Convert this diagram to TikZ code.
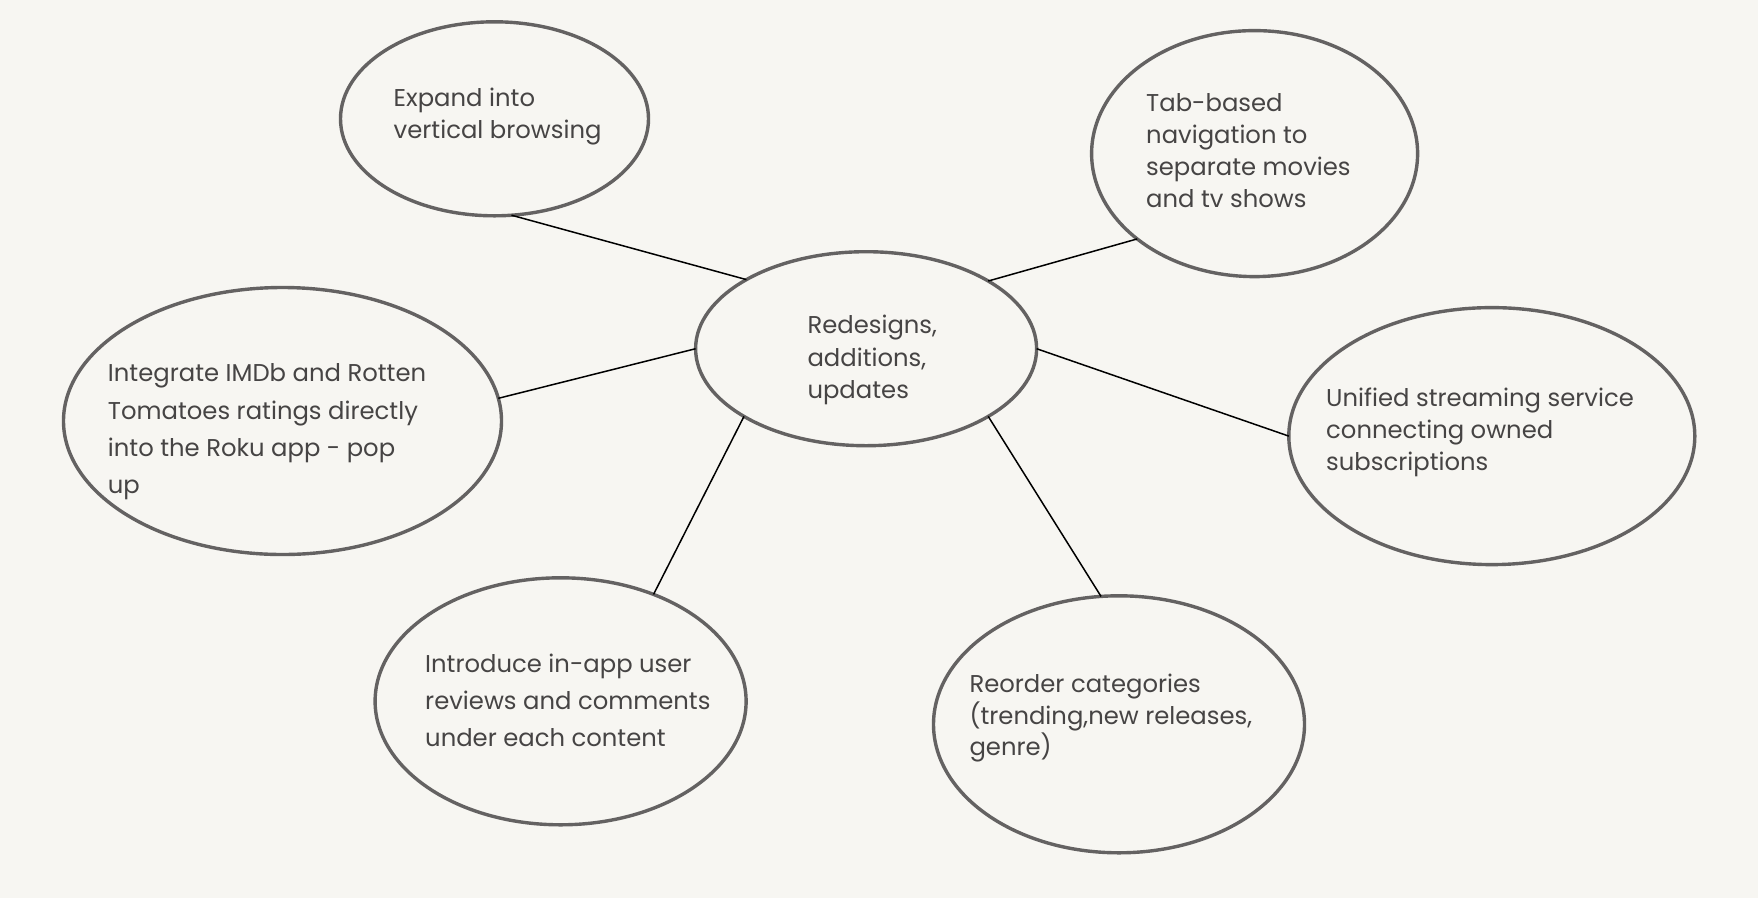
\documentclass[tikz,border=0pt]{standalone}
\usepackage{fontspec}
\setmainfont{Poppins}
\usetikzlibrary{shapes.geometric}
\definecolor{bgc}{HTML}{F7F6F2}
\definecolor{ringc}{HTML}{646262}
\definecolor{txtc}{HTML}{464444}
\tikzset{
  ring/.style={ellipse, draw=ringc, line width=3.4pt, inner sep=0pt, outer sep=0pt},
  lbl/.style={anchor=base west, inner sep=0pt, text=txtc, font=\fontsize{24.3}{30}\selectfont},
  link/.style={draw=black, line width=1.5pt}
}
\begin{document}
\begin{tikzpicture}[x=1pt,y=-1pt]
\fill[bgc] (0,0) rectangle (1758,898);
\useasboundingbox (0,0) rectangle (1758,898);
% ellipses
\node[ring, minimum width=308pt, minimum height=194pt] (n1) at (494.5,118.8) {};
\node[ring, minimum width=326pt, minimum height=246pt] (n2) at (1254.6,153.6) {};
\node[ring, minimum width=341pt, minimum height=194pt] (c) at (866.1,348.7) {};
\node[ring, minimum width=438pt, minimum height=267pt] (n4) at (282.5,421) {};
\node[ring, minimum width=406pt, minimum height=257pt] (n5) at (1491.8,436.1) {};
\node[ring, minimum width=371pt, minimum height=247pt] (n6) at (560.6,701.3) {};
\node[ring, minimum width=371pt, minimum height=257pt] (n7) at (1119,724.3) {};
% connectors
\draw[link] (n1.-80.2) -- (c.150);
\draw[link] (n2.216.8) -- (c.29.7);
\draw[link] (n4.6.8) -- (c.180);
\draw[link] (n5.180) -- (c.0);
\draw[link] (n6.49.2) -- (c.209.6);
\draw[link] (n7.98.6) -- (c.-29.6);
% texts
\node[lbl] (t1a) at (393.5,106.7) {Expand into};
\node[lbl] (t1b) at (393.5,138.3) {vertical browsing};
\node[lbl] (t2a) at (1146,111.7) {Tab-based};
\node[lbl] (t2b) at (1146,143.7) {navigation to};
\node[lbl] (t2c) at (1146,175.7) {separate movies};
\node[lbl] (t2d) at (1146,207.7) {and tv shows};
\node[lbl] (tca) at (807.3,333.3) {Redesigns,};
\node[lbl] (tcb) at (807.3,366) {additions,};
\node[lbl] (tcc) at (807.3,398.7) {updates};
\node[lbl] (t4a) at (107.7,381.7) {Integrate IMDb and Rotten};
\node[lbl] (t4b) at (107.7,419) {Tomatoes ratings directly};
\node[lbl] (t4c) at (107.7,456.3) {into the Roku app - pop};
\node[lbl] (t4d) at (107.7,493.6) {up};
\node[lbl] (t5a) at (1326,406) {Unified streaming service};
\node[lbl] (t5b) at (1326,438) {connecting owned};
\node[lbl] (t5c) at (1326,470) {subscriptions};
\node[lbl] (t6a) at (425,672.3) {Introduce in-app user};
\node[lbl] (t6b) at (425,709.6) {reviews and comments};
\node[lbl] (t6c) at (425,746.9) {under each content};
\node[lbl] (t7a) at (969.3,692.7) {Reorder categories};
\node[lbl] (t7b) at (969.3,724) {(trending,new releases,};
\node[lbl] (t7c) at (969.3,755.3) {genre)};
\end{tikzpicture}
\end{document}
